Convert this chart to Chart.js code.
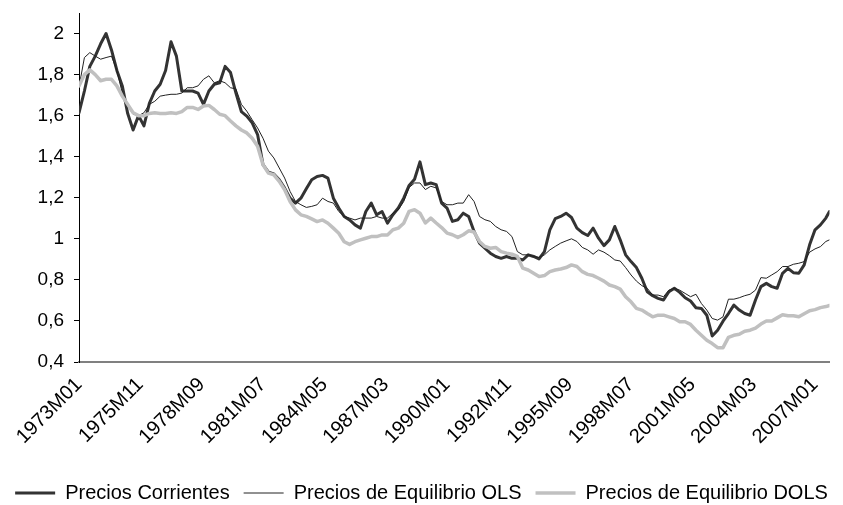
<!DOCTYPE html>
<html>
<head>
<meta charset="utf-8">
<script src="https://cdn.jsdelivr.net/npm/chart.js@4.4.1/dist/chart.umd.min.js"></script>
<style>
  html, body { margin: 0; padding: 0; background: #fff; }
</style>
</head>
<body>
<canvas id="chart" width="843" height="505"></canvas>
<script>
// months counted from 1973M01, every 3 months (last point 2007M09)
var months = [];
for (var m = 0; m <= 414; m += 3) months.push(m);
months.push(416);

var tickMonths = [0, 34, 68, 102, 136, 170, 204, 238, 272, 306, 340, 374, 408];
var tickLabels = ["1973M01", "1975M11", "1978M09", "1981M07", "1984M05", "1987M03", "1990M01",
  "1992M11", "1995M09", "1998M07", "2001M05", "2004M03", "2007M01"];

var seriesNames = ["Precios Corrientes", "Precios de Equilibrio OLS", "Precios de Equilibrio DOLS"];

var corrientes = [
  1.614, 1.72, 1.84, 1.89, 1.95, 2.0, 1.92, 1.82, 1.745, 1.61,
  1.53, 1.60, 1.55, 1.66, 1.72, 1.753, 1.82, 1.96, 1.89, 1.72,
  1.72, 1.72, 1.71, 1.655, 1.72, 1.753, 1.76, 1.84, 1.81, 1.71,
  1.62, 1.598, 1.565, 1.508, 1.361, 1.325, 1.316, 1.288, 1.247, 1.198,
  1.174, 1.198, 1.244, 1.288, 1.304, 1.309, 1.296, 1.198, 1.15, 1.109,
  1.092, 1.068, 1.052, 1.133, 1.174, 1.117, 1.133, 1.076, 1.117, 1.15,
  1.198, 1.26, 1.29, 1.375, 1.264, 1.272, 1.264, 1.174, 1.15, 1.085,
  1.093, 1.125, 1.109, 1.036, 0.979, 0.954, 0.93, 0.914, 0.905, 0.914,
  0.905, 0.905, 0.897, 0.922, 0.914, 0.902, 0.938, 1.044, 1.098, 1.109,
  1.125, 1.104, 1.052, 1.03, 1.016, 1.052, 1.003, 0.967, 0.995, 1.06,
  0.995, 0.922, 0.889, 0.86, 0.808, 0.742, 0.723, 0.71, 0.702, 0.742,
  0.759, 0.739, 0.713, 0.697, 0.664, 0.661, 0.628, 0.527, 0.555, 0.599,
  0.636, 0.677, 0.653, 0.636, 0.628, 0.702, 0.767, 0.783, 0.767, 0.759,
  0.832, 0.856, 0.835, 0.832, 0.873, 0.971, 1.044, 1.068, 1.101, 1.133
];

var equilibrioOLS = [
  1.74, 1.883, 1.907, 1.89, 1.875, 1.883, 1.89, 1.82, 1.71, 1.647,
  1.607, 1.60, 1.614, 1.655, 1.67, 1.695, 1.70, 1.704, 1.704, 1.71,
  1.736, 1.736, 1.745, 1.777, 1.794, 1.76, 1.77, 1.76, 1.736, 1.73,
  1.655, 1.622, 1.58, 1.54, 1.49, 1.427, 1.394, 1.345, 1.296, 1.231,
  1.182, 1.166, 1.153, 1.158, 1.166, 1.198, 1.182, 1.174, 1.133, 1.109,
  1.101, 1.092, 1.101, 1.101, 1.101, 1.109, 1.101, 1.101, 1.125, 1.141,
  1.182, 1.25, 1.272, 1.272, 1.24, 1.256, 1.248, 1.182, 1.166, 1.166,
  1.174, 1.174, 1.215, 1.182, 1.109, 1.093, 1.085, 1.06, 1.044, 1.036,
  1.011, 0.938, 0.922, 0.922, 0.914, 0.909, 0.922, 0.946, 0.963, 0.979,
  0.99, 1.0, 0.987, 0.958, 0.946, 0.925, 0.946, 0.935, 0.918, 0.897,
  0.892, 0.86, 0.824, 0.794, 0.772, 0.759, 0.726, 0.726, 0.718, 0.75,
  0.759, 0.75, 0.734, 0.718, 0.73, 0.685, 0.653, 0.612, 0.604, 0.62,
  0.706, 0.706, 0.713, 0.723, 0.73, 0.75, 0.811, 0.808, 0.824, 0.84,
  0.865, 0.865, 0.876, 0.881, 0.889, 0.935, 0.951, 0.962, 0.987, 0.995
];

var equilibrioDOLS = [
  1.745, 1.80, 1.823, 1.80, 1.77, 1.777, 1.777, 1.745, 1.695, 1.655,
  1.614, 1.60, 1.60, 1.611, 1.614, 1.611, 1.611, 1.614, 1.611, 1.62,
  1.64, 1.64, 1.63, 1.647, 1.65, 1.63, 1.607, 1.60, 1.574, 1.55,
  1.53, 1.516, 1.49, 1.451, 1.361, 1.32, 1.312, 1.28, 1.239, 1.182,
  1.141, 1.117, 1.109, 1.097, 1.084, 1.092, 1.076, 1.052, 1.027, 0.986,
  0.973, 0.986, 0.995, 1.003, 1.011, 1.011, 1.019, 1.019, 1.044, 1.052,
  1.076, 1.134, 1.142, 1.125, 1.077, 1.101, 1.077, 1.055, 1.028, 1.02,
  1.007, 1.02, 1.039, 1.033, 0.987, 0.963, 0.954, 0.958, 0.938, 0.93,
  0.925, 0.914, 0.857, 0.848, 0.832, 0.816, 0.821, 0.84, 0.848, 0.853,
  0.86, 0.873, 0.865, 0.84, 0.827, 0.821, 0.808, 0.794, 0.775, 0.767,
  0.755, 0.718, 0.693, 0.661, 0.653, 0.636, 0.62, 0.628, 0.628, 0.62,
  0.612, 0.596, 0.596, 0.583, 0.555, 0.53, 0.506, 0.49, 0.47, 0.47,
  0.52, 0.53, 0.535, 0.55, 0.555, 0.565, 0.585, 0.60, 0.60, 0.615,
  0.63, 0.625, 0.625, 0.62, 0.635, 0.65, 0.655, 0.665, 0.67, 0.675
];

function toPoints(values) {
  return values.map((v, i) => ({ x: months[i], y: v }));
}

function commaNumber(v) {
  return String(Math.round(v * 10) / 10).replace(".", ",");
}

var font = "'Liberation Sans', Arial, sans-serif";

new Chart("chart", {
  type: "line",
  data: {
    datasets: [
      { label: seriesNames[0], data: toPoints(corrientes), borderColor: "#333333", borderWidth: 3, order: 3 },
      { label: seriesNames[1], data: toPoints(equilibrioOLS), borderColor: "#222222", borderWidth: 1, order: 2 },
      { label: seriesNames[2], data: toPoints(equilibrioDOLS), borderColor: "#c0c0c0", borderWidth: 3.5, order: 1 }
    ]
  },
  options: {
    responsive: false,
    animation: false,
    devicePixelRatio: 1,
    elements: {
      point: { radius: 0 },
      line: { tension: 0, borderJoinStyle: "round", borderCapStyle: "round" }
    },
    layout: { padding: { top: 13, right: 0, bottom: -8, left: 0 } },
    plugins: {
      tooltip: { enabled: false },
      legend: {
        display: true,
        position: "bottom",
        labels: {
          usePointStyle: true,
          pointStyle: "line",
          pointStyleWidth: 40,
          padding: 14,
          color: "#000",
          font: { family: font, size: 20 },
          sort: (a, b) => a.datasetIndex - b.datasetIndex
        }
      }
    },
    scales: {
      x: {
        type: "linear",
        min: 0,
        max: 416,
        afterBuildTicks: (s) => { s.ticks = tickMonths.map(v => ({ value: v })); },
        afterFit: (s) => { s.height = 107; },
        grid: { display: false, drawTicks: false },
        border: { display: true, color: "#808080", width: 2 },
        ticks: {
          autoSkip: false,
          minRotation: 45,
          maxRotation: 45,
          padding: 11,
          color: "#000",
          font: { family: font, size: 20 },
          callback: (v) => tickLabels[tickMonths.indexOf(v)]
        }
      },
      y: {
        min: 0.4,
        max: 2.1,
        afterFit: (s) => { s.width = 79; s.paddingTop = 0; s.paddingBottom = 0; },
        grid: { display: true, drawOnChartArea: false, drawTicks: true, tickLength: 5, color: "#000" },
        border: { display: true, color: "#000", width: 1 },
        ticks: {
          stepSize: 0.2,
          includeBounds: false,
          padding: 10,
          color: "#000",
          font: { family: font, size: 19 },
          callback: (v) => commaNumber(v)
        }
      }
    }
  }
});
</script>
</body>
</html>
